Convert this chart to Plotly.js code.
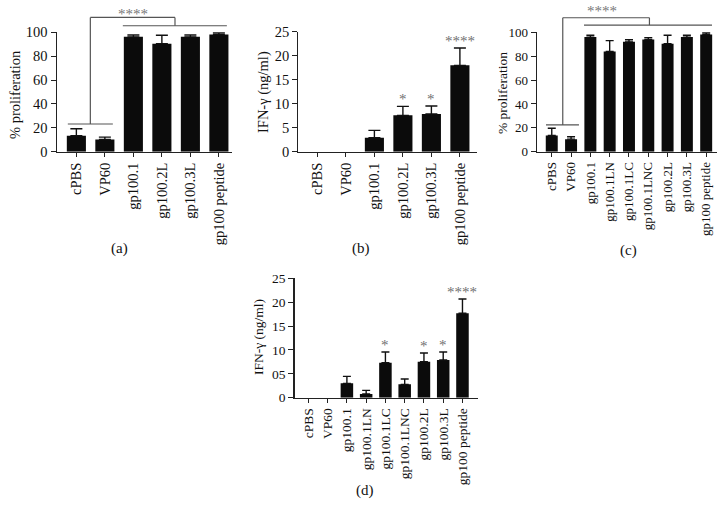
<!DOCTYPE html>
<html>
<head>
<meta charset="utf-8">
<script src="https://cdn.plot.ly/plotly-3.0.1.min.js"></script>
<style>html,body{margin:0;padding:0;background:#fff;}#chart{width:727px;height:527px;}</style>
</head>
<body>
<div id="chart"></div>
<script>
// ---------- data ----------
const catsA = ['cPBS', 'VP60', 'gp100.1', 'gp100.2L', 'gp100.3L', 'gp100 peptide'];
const valsA = [13.4, 10.2, 96.2, 90.5, 96.2, 98.2];
const errA  = [5.8, 2.0, 1.5, 7.0, 1.5, 1.4];

const catsB = ['cPBS', 'VP60', 'gp100.1', 'gp100.2L', 'gp100.3L', 'gp100 peptide'];
const valsB = [0, 0, 2.92, 7.57, 7.85, 17.99];
const errB  = [0, 0, 1.52, 1.87, 1.66, 3.6];
const sigB  = ['', '', '', '*', '*', '****'];

const catsC = ['cPBS', 'VP60', 'gp100.1', 'gp100.1LN', 'gp100.1LC', 'gp100.1LNC', 'gp100.2L', 'gp100.3L', 'gp100 peptide'];
const valsC = [13.6, 10.5, 96.0, 84.0, 92.0, 94.0, 90.5, 96.0, 98.2];
const errC  = [6.0, 2.0, 1.5, 9.0, 1.8, 1.5, 7.0, 1.5, 1.4];

const catsD = ['cPBS', 'VP60', 'gp100.1', 'gp100.1LN', 'gp100.1LC', 'gp100.1LNC', 'gp100.2L', 'gp100.3L', 'gp100 peptide'];
const valsD = [0, 0, 3.0, 0.77, 7.33, 2.79, 7.54, 7.89, 17.67];
const errD  = [0, 0, 1.47, 0.77, 2.24, 1.12, 1.82, 1.68, 3.0];
const sigD  = ['', '', '', '', '*', '', '*', '*', '****'];

const sigAC = '****';

// ---------- styling / layout config ----------
const W = 727, H = 527;
const FONT = 'Liberation Serif';
const panels = [
  {id: '',  cats: catsA, vals: valsA, err: errA, sig: null, xpx: [56.7, 232], ypx: [151.7, 32.3], xr: [-0.69, 5.46], yr: [0, 100], dt: 20, bw: 0.67, cap: 6, fs: 14.5},
  {id: '2', cats: catsB, vals: valsB, err: errB, sig: sigB, xpx: [298.3, 477], ypx: [151.7, 31.7], xr: [-0.67, 5.6], yr: [0, 25], dt: 5, bw: 0.67, cap: 6, fs: 14.5},
  {id: '3', cats: catsC, vals: valsC, err: errC, sig: null, xpx: [536.7, 717], ypx: [151.7, 32.3], xr: [-0.78, 8.56], yr: [0, 100], dt: 20, bw: 0.62, cap: 4, fs: 13},
  {id: '4', cats: catsD, vals: valsD, err: errD, sig: sigD, xpx: [294.5, 477.5], ypx: [397.7, 278.3], xr: [-0.72, 8.78], yr: [0, 25], dt: 5, bw: 0.65, cap: 4, fs: 13.5,
   ticktext: ['0', '05', '10', '15', '20', '25']}
];

const traces = [];
const layout = {
  width: W, height: H, margin: {l: 0, r: 0, t: 0, b: 0},
  paper_bgcolor: '#fff', plot_bgcolor: '#fff', showlegend: false,
  font: {family: FONT, color: '#111'},
  shapes: [], annotations: []
};

panels.forEach(p => {
  const xa = 'xaxis' + p.id, ya = 'yaxis' + p.id;
  const xr = 'x' + p.id, yr = 'y' + p.id;
  traces.push({
    type: 'bar', x: p.cats, y: p.vals, xaxis: xr, yaxis: yr, width: p.bw,
    marker: {color: '#0b0b0b', line: {width: 0}},
    error_y: {type: 'data', symmetric: false,
              array: p.err.map(e => e > 0 ? e : NaN),
              arrayminus: p.err.map(e => e > 0 ? 0 : NaN),
              color: '#111', thickness: 1.4, width: p.cap}
  });
  layout[xa] = {
    domain: [p.xpx[0] / W, p.xpx[1] / W], anchor: yr, type: 'category', range: p.xr,
    showline: true, linecolor: '#222', linewidth: 1.2, ticks: 'outside', ticklen: 4, tickcolor: '#222',
    tickangle: -90, showgrid: false, zeroline: false, tickfont: {family: FONT, size: p.fs, color: '#111'},
    fixedrange: true
  };
  const yax = {
    domain: [1 - p.ypx[0] / H, 1 - p.ypx[1] / H], anchor: xr, range: p.yr, dtick: p.dt, tick0: 0,
    showline: true, linecolor: '#222', linewidth: 1.2, ticks: 'outside', ticklen: 5, tickcolor: '#222',
    showgrid: false, zeroline: false, tickfont: {family: FONT, size: p.fs, color: '#111'}, fixedrange: true
  };
  if (p.ticktext) {
    yax.tickmode = 'array';
    yax.tickvals = p.ticktext.map((t, i) => i * p.dt);
    yax.ticktext = p.ticktext;
  }
  layout[ya] = yax;
  if (p.sig) {
    p.sig.forEach((s, i) => {
      if (!s) return;
      layout.annotations.push({
        xref: xr, yref: yr, x: p.cats[i], y: p.vals[i] + p.err[i], text: s, showarrow: false,
        yanchor: 'bottom', yshift: -3, font: {family: FONT, size: 15, color: '#707070'}
      });
    });
  }
});

// significance brackets (positions in category-index / data units)
const brackets = [
  {p: panels[0], low: [-0.3, 1.28, 23.2], high: [1.63, 5.28, 105.5], leftX: 0.49, midX: 3.46, top: 112.5, starX: 1.98, starY: 115.5},
  {p: panels[2], low: [-0.3, 1.41, 22.4], high: [1.67, 8.3, 106], leftX: 0.57, midX: 5.06, top: 112.2, starX: 2.6, starY: 117.5}
];
const LC = '#555';
brackets.forEach(b => {
  const p = b.p;
  const fx = v => (v - p.xr[0]) / (p.xr[1] - p.xr[0]);
  const fy = v => (v - p.yr[0]) / (p.yr[1] - p.yr[0]);
  const xref = 'x' + p.id + ' domain', yref = 'y' + p.id + ' domain';
  const seg = (x0, y0, x1, y1) => layout.shapes.push({
    type: 'line', xref, yref, x0: fx(x0), y0: fy(y0), x1: fx(x1), y1: fy(y1),
    line: {color: LC, width: 1.2}, layer: 'above'
  });
  seg(b.low[0], b.low[2], b.low[1], b.low[2]);
  seg(b.leftX, b.low[2], b.leftX, b.top);
  seg(b.leftX, b.top, b.midX, b.top);
  seg(b.midX, b.top, b.midX, b.high[2]);
  seg(b.high[0], b.high[2], b.high[1], b.high[2]);
  layout.annotations.push({
    xref: xref, yref: yref, x: fx(b.starX), y: fy(b.starY), text: sigAC, showarrow: false,
    xanchor: 'center', yanchor: 'middle', font: {family: FONT, size: 15, color: '#777'}
  });
});

// y-axis titles and panel captions (paper pixel positions)
const ytitles = [
  {t: '% proliferation', x: 15, y: 95, fs: 14.5},
  {t: 'IFN-γ (ng/ml)', x: 263, y: 92, fs: 14.5},
  {t: '% proliferation', x: 502, y: 93, fs: 13.5},
  {t: 'IFN-γ (ng/ml)', x: 258, y: 337, fs: 13.5}
];
ytitles.forEach(o => layout.annotations.push({
  xref: 'paper', yref: 'paper', x: o.x / W, y: 1 - o.y / H, text: o.t, textangle: -90, showarrow: false,
  xanchor: 'center', yanchor: 'middle', font: {family: FONT, size: o.fs, color: '#111'}
}));
const captions = [
  {t: '(a)', x: 119, y: 249}, {t: '(b)', x: 361, y: 249}, {t: '(c)', x: 628, y: 250}, {t: '(d)', x: 365, y: 490}
];
captions.forEach(o => layout.annotations.push({
  xref: 'paper', yref: 'paper', x: o.x / W, y: 1 - o.y / H, text: o.t, showarrow: false,
  xanchor: 'center', yanchor: 'middle', font: {family: FONT, size: 15, color: '#111'}
}));

Plotly.newPlot('chart', traces, layout, {staticPlot: true, displayModeBar: false});
</script>
</body>
</html>
